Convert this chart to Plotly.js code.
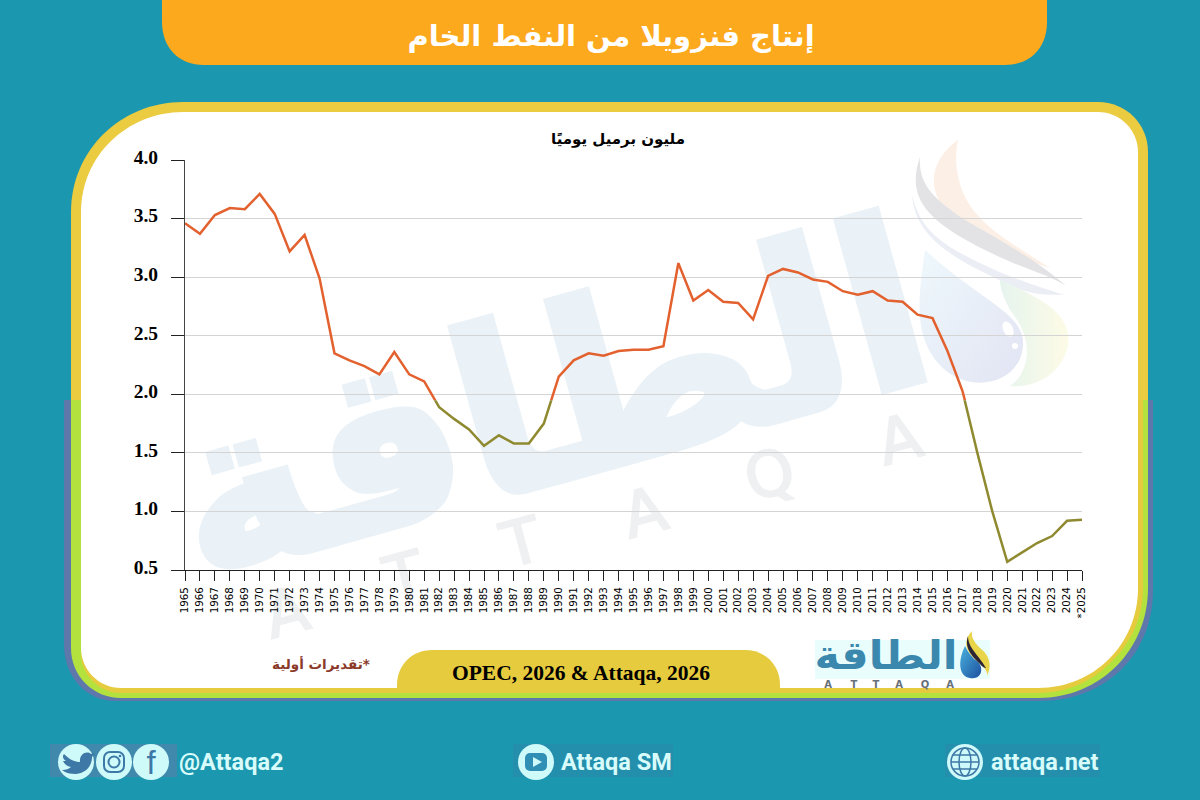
<!DOCTYPE html>
<html lang="ar"><head><meta charset="utf-8">
<script src="https://cdn.plot.ly/plotly-3.0.1.min.js"></script>
<style>
html,body{margin:0;padding:0;width:1200px;height:800px;overflow:hidden;background:#1B97AF}
#bg{position:absolute;left:0;top:0}
#chart{position:absolute;left:0;top:0;width:1200px;height:800px}
</style></head><body>
<svg id="bg" width="1200" height="800" viewBox="0 0 1200 800">
<defs>
<clipPath id="topHalf"><rect x="0" y="0" width="1200" height="400"/></clipPath>
<clipPath id="botHalf"><rect x="0" y="400" width="1200" height="400"/></clipPath>
<linearGradient id="drop" x1="0" y1="0" x2="1" y2="1"><stop offset="0" stop-color="#eef8fc"/><stop offset="1" stop-color="#e2e4f3"/></linearGradient>
<linearGradient id="tail" x1="0" y1="0" x2="1" y2="0"><stop offset="0" stop-color="#e6f4ee"/><stop offset="1" stop-color="#fdfbe6"/></linearGradient>
<linearGradient id="dropLogo" x1="0" y1="0" x2="1" y2="1"><stop offset="0" stop-color="#49b3dd"/><stop offset="1" stop-color="#1d4fa0"/></linearGradient>
</defs>
<!-- banner -->
<path d="M162 0H1047V22C1047 48 1030 65 1005 65H204C179 65 162 48 162 22Z" fill="#FDA91D"/>
<!-- card frame -->
<g clip-path="url(#botHalf)">
<path d="M64 300H1153V590C1153 655 1105 701 1040 701H115C85 701 64 675 64 645Z" fill="#5F78AC"/>
<path d="M71 212C71 150 121 102 183 102H1098C1126 102 1148 124 1148 152V588C1148 650 1100 698 1038 698H121C93 698 71 676 71 648Z" fill="#B3E23F"/>
<path d="M81 212C81 156 127 112 183 112H1098C1120 112 1138 130 1138 152V588C1138 644 1094 688 1038 688H121C99 688 81 670 81 648Z" fill="#E6CB3E" transform="translate(0,5)"/>
<path d="M81 212C81 156 127 112 183 112H1098C1120 112 1138 130 1138 152V588C1138 644 1094 688 1038 688H121C99 688 81 670 81 648Z" fill="#E6CB3E" transform="translate(5,0)"/>
</g>
<path d="M71 212C71 150 121 102 183 102H1098C1126 102 1148 124 1148 152V588C1148 650 1100 698 1038 698H121C93 698 71 676 71 648Z" fill="#EBCB40" clip-path="url(#topHalf)"/>
<path d="M81 212C81 156 127 112 183 112H1098C1120 112 1138 130 1138 152V588C1138 644 1094 688 1038 688H121C99 688 81 670 81 648Z" fill="#fff"/>
<!-- watermark -->
<text transform="translate(570,478) rotate(-15.5)" text-anchor="middle" font-family="DejaVu Sans" font-weight="bold" font-size="232" fill="#EAF2F7" stroke="#EAF2F7" stroke-width="7">الطاقة</text>
<g font-family="DejaVu Sans" font-size="62" fill="#EEF0F2" stroke="#EEF0F2" stroke-width="2" text-anchor="middle">
<text transform="translate(292,633) rotate(-15)">A</text>
<text transform="translate(410,597) rotate(-15)">T</text>
<text transform="translate(527,563) rotate(-15)">T</text>
<text transform="translate(650,533) rotate(-15)">A</text>
<text transform="translate(775,495) rotate(-15)">Q</text>
<text transform="translate(905,460) rotate(-15)">A</text>
</g>
<!-- watermark drop -->
<path d="M958 140C930 160 925 190 950 215C985 245 1030 262 1050 268C1015 245 975 225 962 190C955 170 955 155 958 140Z" fill="#FCEFE6"/>
<path d="M920 157C905 200 930 222 985 250C1020 268 1050 275 1066 286C1040 262 1000 240 965 220C935 200 918 185 920 157Z" fill="#E3E3E5"/>
<path d="M912 195C915 240 960 262 1010 285C1040 300 1062 292 1068 296C1030 285 990 270 955 250C930 235 918 220 912 195Z" fill="#ECEEF6"/>
<path d="M1000 280C1045 300 1072 315 1068 345C1062 375 1035 388 1010 386C1030 372 1035 340 1010 310C1005 300 1000 290 1000 280Z" fill="url(#tail)"/>
<path d="M925 250C918 300 912 340 945 370C975 395 1025 382 1023 340C1020 312 980 300 925 250Z" fill="url(#drop)"/>
<ellipse cx="1008" cy="329" rx="5" ry="8" fill="#fff" transform="rotate(-25 1008 329)"/>
<circle cx="1015" cy="346" r="3" fill="#fff"/>
<!-- source pill -->
<path d="M397 690V685C397 665 412 650 432 650H745C765 650 780 665 780 685V690Z" fill="#E6CB3E"/>
<!-- bottom logo -->
<rect x="815" y="640" width="175" height="39" fill="#EAFDFD"/>
<text x="886" y="669" text-anchor="middle" font-family="DejaVu Sans" font-weight="bold" font-size="40" fill="#3B88AE" textLength="143" lengthAdjust="spacingAndGlyphs">الطاقة</text>
<g font-family="DejaVu Sans" font-size="10" font-weight="bold" fill="#66707a" text-anchor="middle">
<text x="828" y="688">A</text><text x="854" y="688">T</text><text x="876" y="688">T</text><text x="899" y="688">A</text><text x="925" y="688">Q</text><text x="950" y="688">A</text>
</g>
<path d="M972 631C962 642 966 652 978 662C985 668 988 672 987 676C993 664 988 654 980 648C974 642 971 637 972 631Z" fill="#E8D54A"/>
<path d="M968 636C964 648 972 656 980 664C983 668 986 668 986 668C978 654 968 648 968 636Z" fill="#2b2535"/>
<path d="M965 646C958 660 958 676 970 678C982 680 984 668 978 662C972 658 968 652 965 646Z" fill="url(#dropLogo)"/>
<!-- footer icons -->
<rect x="50" y="744" width="127" height="33" fill="#4F84AB" opacity="0.75"/>
<rect x="513" y="744" width="160" height="33" fill="#2B8BAB" opacity="0.6"/>
<rect x="945" y="744" width="155" height="33" fill="#2B8BAB" opacity="0.6"/>
<g fill="#CFFAFA">
<circle cx="76" cy="762" r="18"/><circle cx="114" cy="762" r="18"/><circle cx="151" cy="762" r="18"/>
<circle cx="536" cy="762" r="18"/><circle cx="965" cy="762" r="18"/>
</g>
<path d="M64 754C70 760 75 762 80 762C79 755 86 750 91 754L95 753L92 757C92 766 86 773 76 774C70 774 66 773 62 770C66 770 69 769 71 767C66 766 64 763 63 761L66 761C63 759 62 756 64 754Z" fill="#3E78A6"/>
<text x="151" y="774" text-anchor="middle" font-family="Liberation Sans" font-size="33" fill="#3E78A6">f</text>
<g fill="none" stroke="#3E78A6">
<rect x="104" y="752" width="20" height="20" rx="6" stroke-width="2"/><circle cx="114" cy="762" r="5.5" stroke-width="2"/>
<circle cx="965" cy="762" r="14" stroke-width="1.5"/><ellipse cx="965" cy="762" rx="6" ry="14" stroke-width="1.5"/><path d="M951 762H979M953 755H977M953 769H977" stroke-width="1.5"/>
</g>
<circle cx="120" cy="756" r="1.3" fill="#3E78A6"/>
<rect x="525" y="753" width="22" height="18" rx="5" fill="#2F8FB4"/>
<path d="M533 757L542 762L533 767Z" fill="#CFFAFA"/>
</svg>
<div id="chart"></div>
<script>
// Values
const years = ["1965","1966","1967","1968","1969","1970","1971","1972","1973","1974","1975","1976","1977","1978","1979","1980","1981","1982","1983","1984","1985","1986","1987","1988","1989","1990","1991","1992","1993","1994","1995","1996","1997","1998","1999","2000","2001","2002","2003","2004","2005","2006","2007","2008","2009","2010","2011","2012","2013","2014","2015","2016","2017","2018","2019","2020","2021","2022","2023","2024","*2025"];
const production = [3.46,3.37,3.53,3.59,3.58,3.71,3.54,3.22,3.36,2.99,2.35,2.29,2.24,2.17,2.36,2.17,2.11,1.89,1.79,1.70,1.56,1.65,1.58,1.58,1.75,2.15,2.29,2.35,2.33,2.37,2.38,2.38,2.41,3.12,2.80,2.89,2.79,2.78,2.64,3.01,3.07,3.04,2.98,2.96,2.88,2.85,2.88,2.80,2.79,2.68,2.65,2.37,2.03,1.50,1.00,0.57,0.65,0.73,0.79,0.92,0.93];
const colourBreak = 1.95;
const yMin = 0.5, yMax = 4.0;
const chartTitle = "إنتاج فنزويلا من النفط الخام";
const unitLabel = "مليون برميل يوميًا";
const sourceLabel = "OPEC, 2026 & Attaqa, 2026";
const noteLabel = "\u200F*تقديرات أولية";
const handles = [["@Attaqa2",230.5],["Attaqa SM",616.5],["attaqa.net",1044.5]];

const L=185,R=1082,T=160,B=570;
const px = x => (x-L)/(R-L), py = y => (B-y)/(B-T);
const split = (colourBreak-yMin)/(yMax-yMin);
const ann = (text,x,y,size,color,family,extra) => Object.assign({text,x:px(x),y:py(y),xref:'paper',yref:'paper',xanchor:'center',yanchor:'middle',showarrow:false,font:{size,color,family,weight:'bold'}},extra||{});

const yCommon = {anchor:'x',tick0:0.5,dtick:0.5,tickformat:'.1f',showline:true,linecolor:'#444',linewidth:1,
  ticks:'outside',ticklen:13,tickcolor:'#222',tickwidth:1,ticklabelstandoff:9,showgrid:true,gridcolor:'#d4d4d4',gridwidth:1,zeroline:false,
  tickfont:{family:'Liberation Serif',size:19.5,color:'#000',weight:'bold'}};

Plotly.newPlot('chart',[
 {x:years,y:production,xaxis:'x',yaxis:'y',type:'scatter',mode:'lines',line:{color:'#E2612F',width:2.5},hoverinfo:'skip',showlegend:false},
 {x:years,y:production,xaxis:'x',yaxis:'y2',type:'scatter',mode:'lines',line:{color:'#8F8A30',width:2.5},hoverinfo:'skip',showlegend:false}
],{
 width:1200,height:800,margin:{l:L,r:1200-R,t:T,b:800-B,pad:0},
 paper_bgcolor:'rgba(0,0,0,0)',plot_bgcolor:'rgba(0,0,0,0)',showlegend:false,
 title:{text:chartTitle,x:611/1200,xanchor:'center',y:1-36/800,yanchor:'middle',font:{family:'DejaVu Sans',size:29,color:'#fff',weight:'bold'}},
 xaxis:{type:'category',categoryorder:'array',categoryarray:years,range:[0,years.length-1],anchor:'y2',tickmode:'linear',tick0:0,dtick:1,
   tickangle:-90,ticks:'outside',ticklen:10,tickcolor:'#222',tickwidth:1,ticklabelstandoff:2,showline:true,linecolor:'#222',linewidth:1,showgrid:false,
   tickfont:{family:'DejaVu Sans',size:10.3,color:'#000'}},
 yaxis:Object.assign({},yCommon,{domain:[split,1],range:[colourBreak,yMax]}),
 yaxis2:Object.assign({},yCommon,{domain:[0,split],range:[yMin,colourBreak]}),
 annotations:[
  ann(unitLabel,617.5,139,15,'#000','DejaVu Sans'),
  ann(sourceLabel,581,673,21.5,'#000','Liberation Serif'),
  ann(noteLabel,321,664,13.5,'#8B3A2A','DejaVu Sans'),
  ...handles.map(h=>ann(h[0],h[1],762,23.5,'#D8FBFB','Roboto'))
 ]
},{staticPlot:true,displayModeBar:false}).then(gd=>{
  gd.querySelectorAll('.ytick text, .y2tick text').forEach(t=>t.setAttribute('dy','-3'));
});
</script>
</body></html>
